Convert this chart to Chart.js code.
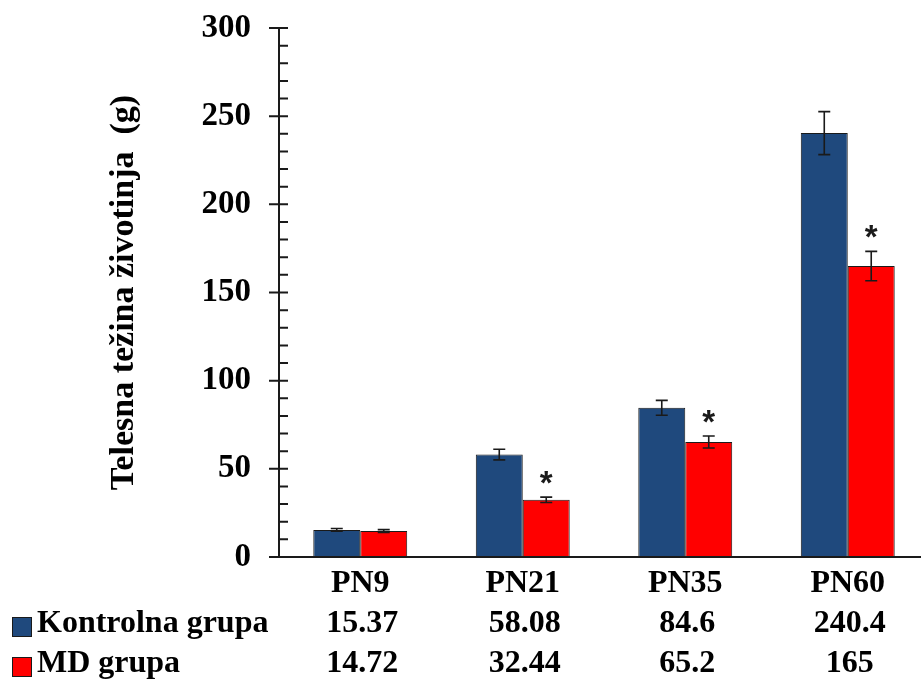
<!DOCTYPE html>
<html>
<head>
<meta charset="utf-8">
<title>Telesna težina životinja</title>
<script src="https://cdn.jsdelivr.net/npm/chart.js@4.4.1/dist/chart.umd.min.js"></script>
<style>
  html, body { margin: 0; padding: 0; background: #ffffff; overflow: hidden; }
  #wrap { width: 921px; height: 679px; overflow: hidden; }
  #chart { display: block; }
</style>
</head>
<body>
<div id="wrap"><canvas id="chart" width="929" height="679"></canvas></div>
<script>
// Age groups (postnatal day)
const categories = ['PN9', 'PN21', 'PN35', 'PN60'];

// Mean body weight (g) per group
const kontrolnaValues = [15.37, 58.08, 84.6, 240.4];
const mdValues = [14.72, 32.44, 65.2, 165];

// Error bar half-lengths (g)
const kontrolnaErrors = [0.8, 3, 4.2, 12.2];
const mdErrors = [0.8, 1.5, 3.4, 8.3];

// Significant difference vs. control, marked with *
const mdSignificant = [false, true, true, true];

// Series names
const seriesNames = ['Kontrolna grupa', 'MD grupa'];

// Y axis: range and tick steps
const yMin = 0;
const yMax = 300;
const yMinorStep = 10;
const yMajorStep = 50;

const BLUE = '#1F497D';
const RED = '#FF0000';
const INK = '#1a1a1a';
const SERIF = '"Liberation Serif", "Times New Roman", serif';

// Axis lines plus crossing major / inside minor tick marks
const axisPlugin = {
  id: 'axisMarks',
  afterDraw(chart) {
    const { ctx, chartArea, scales } = chart;
    const y = scales.y;
    ctx.save();
    ctx.strokeStyle = INK;
    ctx.lineWidth = 2;
    ctx.beginPath();
    ctx.moveTo(chartArea.left, chartArea.top);
    ctx.lineTo(chartArea.left, chartArea.bottom);
    ctx.moveTo(chartArea.left - 10, chartArea.bottom);
    ctx.lineTo(chartArea.right, chartArea.bottom);
    y.ticks.forEach(t => {
      const py = y.getPixelForValue(t.value);
      const major = t.value % yMajorStep === 0;
      ctx.moveTo(major ? chartArea.left - 10 : chartArea.left, py);
      ctx.lineTo(chartArea.left + 9, py);
    });
    ctx.stroke();
    ctx.restore();
  }
};

// Error bars and significance asterisks
const errorPlugin = {
  id: 'errorBars',
  afterDatasetsDraw(chart) {
    const { ctx, scales } = chart;
    const y = scales.y;
    const errs = [kontrolnaErrors, mdErrors];
    ctx.save();
    ctx.strokeStyle = INK;
    ctx.lineWidth = 1.6;
    chart.data.datasets.forEach((ds, di) => {
      const meta = chart.getDatasetMeta(di);
      meta.data.forEach((bar, i) => {
        const v = ds.data[i];
        const e = errs[di][i];
        const top = y.getPixelForValue(v + e);
        const bot = y.getPixelForValue(v - e);
        const cap = 6;
        ctx.beginPath();
        ctx.moveTo(bar.x, top);
        ctx.lineTo(bar.x, bot);
        ctx.moveTo(bar.x - cap, top);
        ctx.lineTo(bar.x + cap, top);
        ctx.moveTo(bar.x - cap, bot);
        ctx.lineTo(bar.x + cap, bot);
        ctx.stroke();
        if (di === 1 && mdSignificant[i]) {
          ctx.fillStyle = INK;
          ctx.font = 'bold 33px "Liberation Sans", Arial, sans-serif';
          ctx.textAlign = 'center';
          ctx.textBaseline = 'alphabetic';
          const m = ctx.measureText('*');
          const cy = top - 20;
          const off = (m.actualBoundingBoxAscent - m.actualBoundingBoxDescent) / 2;
          ctx.fillText('*', bar.x, cy + off);
        }
      });
    });
    ctx.restore();
  }
};

// Data table under the axis with legend keys
const tablePlugin = {
  id: 'dataTable',
  afterDraw(chart) {
    const { ctx, scales } = chart;
    const x = scales.x;
    const rows = [kontrolnaValues, mdValues];
    const colors = [BLUE, RED];
    const rowY = [624, 664];
    ctx.save();
    ctx.font = 'bold 32px ' + SERIF;
    ctx.textBaseline = 'middle';
    rows.forEach((vals, r) => {
      const cy = rowY[r];
      // legend key
      ctx.fillStyle = colors[r];
      ctx.fillRect(12, cy - 7, 20, 20);
      ctx.strokeStyle = INK;
      ctx.lineWidth = 1;
      ctx.strokeRect(12.5, cy - 6.5, 19, 19);
      ctx.fillStyle = '#000';
      ctx.textAlign = 'left';
      ctx.fillText(seriesNames[r], 37, cy);
      ctx.textAlign = 'center';
      vals.forEach((v, i) => {
        ctx.fillText(String(v), x.getPixelForValue(i) + 2, cy);
      });
    });
    ctx.restore();
  }
};

new Chart(document.getElementById('chart'), {
  type: 'bar',
  data: {
    labels: categories,
    datasets: [
      {
        label: seriesNames[0],
        data: kontrolnaValues,
        backgroundColor: BLUE,
        borderColor: INK,
        borderWidth: 1,
        borderSkipped: false
      },
      {
        label: seriesNames[1],
        data: mdValues,
        backgroundColor: RED,
        borderColor: INK,
        borderWidth: 1,
        borderSkipped: false
      }
    ]
  },
  options: {
    responsive: false,
    devicePixelRatio: 1,
    animation: false,
    layout: { padding: { left: 0, right: 0, top: 28, bottom: 0 } },
    plugins: {
      legend: { display: false },
      tooltip: { enabled: false }
    },
    datasets: {
      bar: { categoryPercentage: 0.578, barPercentage: 1 }
    },
    scales: {
      x: {
        grid: { display: false, drawTicks: false },
        border: { display: false },
        ticks: {
          color: '#000',
          padding: 8,
          font: { family: SERIF, size: 32, weight: 'bold' }
        },
        afterFit(scale) { scale.height = 122; }
      },
      y: {
        min: yMin,
        max: yMax,
        grid: { display: false, drawTicks: false },
        border: { display: false },
        ticks: {
          stepSize: yMinorStep,
          autoSkip: false,
          color: '#000',
          padding: 28,
          font: { family: SERIF, size: 33, weight: 'bold' },
          callback: v => (v % yMajorStep === 0 ? String(v) : '')
        },
        title: {
          display: true,
          text: 'Telesna težina životinja  (g)',
          color: '#000',
          padding: { top: 104, bottom: 0 },
          font: { family: SERIF, size: 34, weight: 'bold' }
        },
        afterFit(scale) {
          scale.width = 279;
          // top label overhang is covered by the layout padding
          scale.paddingTop = 0;
          scale.paddingBottom = 0;
        }
      }
    }
  },
  plugins: [axisPlugin, errorPlugin, tablePlugin]
});
</script>
</body>
</html>
